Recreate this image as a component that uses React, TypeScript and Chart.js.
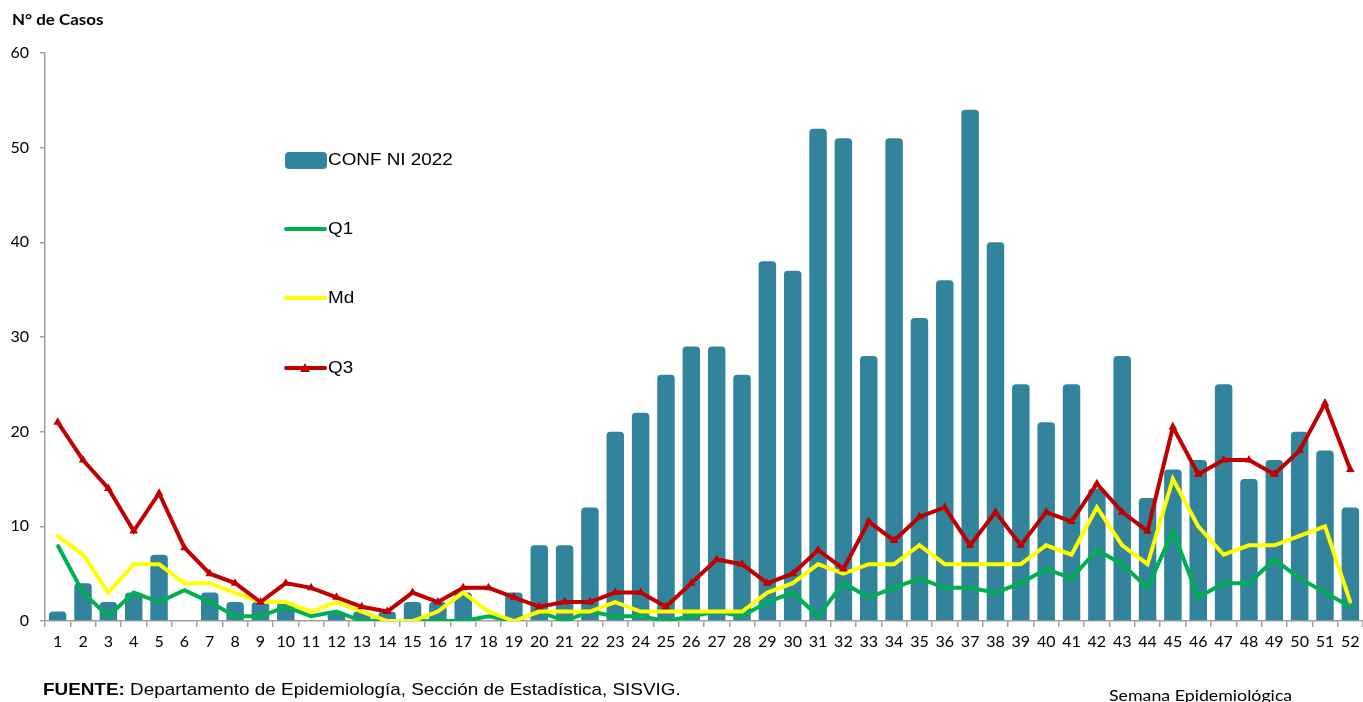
import React, { useEffect, useRef } from "react";
import { Chart, registerables } from "chart.js";

Chart.register(...registerables);

const weeks: string[] = Array.from({ length: 52 }, (_, i) => String(i + 1));

const confirmed2022: number[] = [
  1, 4, 2, 3, 7, 0, 3, 2, 2, 2, 0, 1, 1, 1, 2, 2, 3, 0, 3, 8, 8, 12, 20, 22, 26, 29,
  29, 26, 38, 37, 52, 51, 28, 51, 32, 36, 54, 40, 25, 21, 25, 14, 28, 13, 16, 17, 25, 15, 17, 20, 18, 12,
];

const q1: number[] = [
  8, 3, 0.5, 3, 2, 3.25, 2, 0.5, 0.5, 1.5, 0.5, 1, 0, 0, 0, 0, 0, 0.5, 0, 1, 0, 1, 0.5, 0.5, 0, 0.5,
  1, 0.5, 2, 3, 0.5, 4, 2.5, 3.5, 4.5, 3.5, 3.5, 3, 4, 5.5, 4.5, 7.5, 6, 3.5, 9.5, 2.5, 4, 4, 6.5, 4.5, 3, 1.5,
];

const median: number[] = [
  9, 7, 3, 6, 6, 4, 4, 3, 2, 2, 1, 2, 1, 0, 0, 1, 3, 1, 0, 1, 1, 1, 2, 1, 1, 1,
  1, 1, 3, 4, 6, 5, 6, 6, 8, 6, 6, 6, 6, 8, 7, 12, 8, 6, 15, 10, 7, 8, 8, 9, 10, 2,
];

const q3: number[] = [
  21, 17, 14, 9.5, 13.5, 7.75, 5, 4, 2, 4, 3.5, 2.5, 1.5, 1, 3, 2, 3.5, 3.5, 2.5, 1.5, 2, 2, 3, 3, 1.5, 4,
  6.5, 6, 4, 5, 7.5, 5.5, 10.5, 8.5, 11, 12, 8, 11.5, 8, 11.5, 10.5, 14.5, 11.5, 9.5, 20.5, 15.5, 17, 17, 15.5, 18, 23, 16,
];

const yTicks: number[] = [0, 10, 20, 30, 40, 50, 60];

const BAR_COLOR = "#31849B";
const Q1_COLOR = "#00B050";
const MD_COLOR = "#FFFF00";
const Q3_COLOR = "#C00000";

const W = 1363;
const H = 702;

export default function App() {
  const ref = useRef<HTMLCanvasElement | null>(null);

  useEffect(() => {
    if (!ref.current) return;
    const chart = new Chart(ref.current, {
      type: "bar",
      data: {
        labels: weeks,
        datasets: [
          {
            type: "bar",
            label: "CONF NI 2022",
            data: confirmed2022,
            backgroundColor: BAR_COLOR,
            borderWidth: 0,
            borderRadius: { topLeft: 4, topRight: 4, bottomLeft: 0, bottomRight: 0 },
            borderSkipped: "bottom",
            barPercentage: 0.69,
            categoryPercentage: 1,
            order: 4,
          } as any,
          {
            type: "line",
            label: "Q1",
            data: q1,
            borderColor: Q1_COLOR,
            backgroundColor: Q1_COLOR,
            borderWidth: 4,
            pointStyle: "rect",
            pointRadius: 1.5,
            pointBorderWidth: 0,
            tension: 0,
            order: 3,
          } as any,
          {
            type: "line",
            label: "Md",
            data: median,
            borderColor: MD_COLOR,
            backgroundColor: MD_COLOR,
            borderWidth: 4,
            pointStyle: "rect",
            pointRadius: 2,
            pointBorderWidth: 0,
            tension: 0,
            order: 2,
          } as any,
          {
            type: "line",
            label: "Q3",
            data: q3,
            borderColor: Q3_COLOR,
            backgroundColor: Q3_COLOR,
            borderWidth: 4,
            pointStyle: "triangle",
            pointRadius: 5,
            pointBorderWidth: 0,
            tension: 0,
            order: 1,
          } as any,
        ],
      },
      options: {
        animation: false,
        responsive: false,
        devicePixelRatio: 1,
        layout: { autoPadding: false, padding: { top: 53, right: -1, bottom: 41, left: 0 } },
        plugins: {
          legend: { display: false },
          tooltip: { enabled: false },
          title: { display: false },
        },
        scales: {
          x: {
            grid: {
              display: true,
              drawOnChartArea: false,
              drawTicks: true,
              tickLength: 6,
              color: "#a0a0a0",
              lineWidth: 1.5,
              offset: true,
            },
            border: { color: "#a0a0a0", width: 1.5 },
            ticks: {
              color: "#000",
              font: { family: "Lato", size: 16 },
              padding: 5,
              maxRotation: 0,
              autoSkip: false,
            },
            afterFit: (s: any) => {
              s.height = 40;
              s.paddingLeft = 0;
              s.paddingRight = 0;
            },
          },
          y: {
            min: 0,
            max: 60,
            afterBuildTicks: (s: any) => {
              s.ticks = yTicks.map((v) => ({ value: v }));
            },
            grid: {
              display: true,
              drawOnChartArea: false,
              drawTicks: true,
              tickLength: 5,
              color: "#a0a0a0",
              lineWidth: 1.5,
            },
            border: { color: "#a0a0a0", width: 1.5 },
            ticks: {
              color: "#000",
              font: { family: "Lato", size: 16 },
              padding: 11,
            },
            afterFit: (s: any) => {
              s.width = 45;
            },
          },
        },
      },
    });
    return () => chart.destroy();
  }, []);

  const stretch = (k: number): React.CSSProperties => ({
    transform: `scaleX(${k})`,
    transformOrigin: "left center",
  });

  const legendText: React.CSSProperties = {
    position: "absolute",
    left: 328,
    fontFamily: "'Liberation Sans', Arial, sans-serif",
    fontSize: 17,
    color: "#000",
    lineHeight: "20px",
    whiteSpace: "nowrap",
    ...stretch(1.11),
  };

  const lineSwatch = (y: number, color: string, marker?: "triangle") => (
    <svg
      style={{ position: "absolute", left: 284, top: y - 8 }}
      width={44}
      height={16}
    >
      <line x1={2} y1={8} x2={41} y2={8} stroke={color} strokeWidth={4} strokeLinecap="round" />
      {marker === "triangle" ? (
        <polygon points="21,3 26,12 16,12" fill={color} />
      ) : null}
    </svg>
  );

  return (
    <div
      style={{
        position: "absolute",
        left: 0,
        top: 0,
        width: W,
        height: H,
        overflow: "hidden",
        background: "#fff",
      }}
    >
      <canvas ref={ref} width={W} height={H} style={{ position: "absolute", left: 0, top: 0, width: W, height: H }} />
      <div
        style={{
          position: "absolute",
          left: 12,
          top: 10,
          fontFamily: "Lato, sans-serif",
          fontWeight: 700,
          fontSize: 15,
          color: "#000",
          whiteSpace: "nowrap",
          ...stretch(1.13),
        }}
      >
        N° de Casos
      </div>

      <div
        style={{
          position: "absolute",
          left: 285,
          top: 152,
          width: 42,
          height: 17,
          background: BAR_COLOR,
          borderRadius: 4,
        }}
      />
      <div style={{ ...legendText, top: 150 }}>CONF NI 2022</div>

      {lineSwatch(229, Q1_COLOR)}
      <div style={{ ...legendText, top: 219 }}>Q1</div>

      {lineSwatch(298, MD_COLOR)}
      <div style={{ ...legendText, top: 288 }}>Md</div>

      {lineSwatch(368, Q3_COLOR, "triangle")}
      <div style={{ ...legendText, top: 358 }}>Q3</div>

      <div
        style={{
          position: "absolute",
          left: 43,
          top: 680,
          fontFamily: "'Liberation Sans', Arial, sans-serif",
          fontSize: 17,
          color: "#000",
          whiteSpace: "nowrap",
          ...stretch(1.11),
        }}
      >
        <b>FUENTE:</b> Departamento de Epidemiología, Sección de Estadística, SISVIG.
      </div>

      <div
        style={{
          position: "absolute",
          left: 1109,
          top: 685,
          fontFamily: "Lato, sans-serif",
          fontSize: 16,
          color: "#000",
          whiteSpace: "nowrap",
          ...stretch(1.11),
        }}
      >
        Semana Epidemiológica
      </div>
    </div>
  );
}
